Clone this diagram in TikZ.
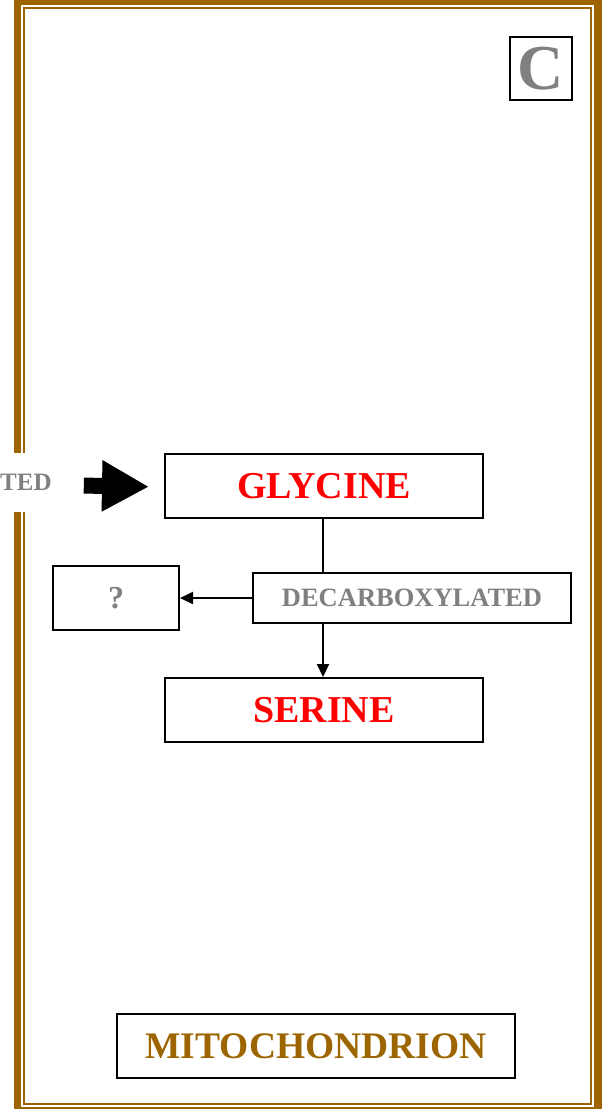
\documentclass[tikz,border=0pt]{standalone}
\usepackage{fontspec}
\setmainfont{Liberation Serif}
\usetikzlibrary{arrows.meta}
\definecolor{mitobrown}{HTML}{9C6500}
\definecolor{txtgray}{HTML}{808080}
\tikzset{
  box/.style={draw=black, line width=2pt, fill=white, inner sep=0pt},
  conn/.style={line width=2pt, draw=black},
  tip/.style={-{Triangle[length=13pt,width=12pt]}},
}
\begin{document}
\begin{tikzpicture}[x=1pt,y=-1pt]
\useasboundingbox (0,0) rectangle (602,1109);
\begin{scope}
\clip (0,0) rectangle (602,1109);
\draw[mitobrown, line width=7.5pt] (17.5,1.2) rectangle (597.8,1110.8);
\draw[mitobrown, line width=2pt] (24,8) rectangle (591,1103.5);
\end{scope}

\node[box, minimum width=62pt, minimum height=63pt, text=txtgray, font=\fontsize{64}{64}\bfseries] (c) at (541,68.5) {C};

\node[box, minimum width=318pt, minimum height=64pt, text=red, font=\fontsize{38}{38}\bfseries] (gly) at (324,486) {GLYCINE};
\node[box, minimum width=318pt, minimum height=50pt, text=txtgray, font=\fontsize{26.5}{26.5}\bfseries] (dec) at (412,598) {DECARBOXYLATED};
\node[box, minimum width=126pt, minimum height=64pt, text=txtgray, font=\fontsize{32}{32}\bfseries] (q) at (116,598) {?};
\node[box, minimum width=318pt, minimum height=64pt, text=red, font=\fontsize{38}{38}\bfseries] (ser) at (324,710) {SERINE};
\node[box, minimum width=398pt, minimum height=64pt, text=mitobrown, font=\fontsize{37.5}{37.5}\bfseries] (mito) at (316,1046) {MITOCHONDRION};

\node[fill=white, inner xsep=0pt, minimum height=59pt, anchor=west, text=txtgray, font=\fontsize{25}{25}\bfseries] (ted) at (0,482) {TED};

\draw[line width=16pt, -{Triangle[length=47pt,width=48pt]}, shorten <=32pt, shorten >=15pt] (ted.east |- gly.west) ++(0,-1) -- ([yshift=-1pt]gly.west);

\draw[conn] ([xshift=-1pt]gly.south) -- ([xshift=-1pt]gly.south |- dec.north);
\draw[conn, tip] ([xshift=-1pt]gly.south |- dec.south) -- ([xshift=-1pt]ser.north);
\draw[conn, tip] (dec.west) -- (q.east);
\end{tikzpicture}
\end{document}
